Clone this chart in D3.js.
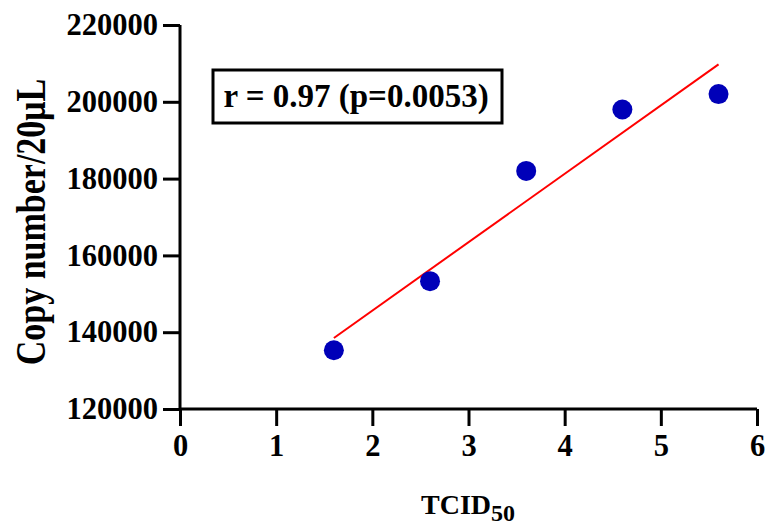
<!DOCTYPE html>
<html lang="en">
<head>
    <meta charset="UTF-8">
    <title>Copy number vs TCID50</title>
    <script src="https://cdn.jsdelivr.net/npm/d3@7"></script>
    <style>
        body { margin: 0; background: #fff; }
        text { font-family: "Liberation Serif", "Times New Roman", serif; font-weight: bold; fill: #000; }
    </style>
</head>
<body>
    <div id="chart"></div>
    <script>
        // data
        const tcid = [1.6, 2.6, 3.6, 4.6, 5.6];
        const copies = [135300, 153300, 182000, 198000, 202000];
        const xTicks = [0, 1, 2, 3, 4, 5, 6];
        const yTicks = [120000, 140000, 160000, 180000, 200000, 220000];
        const statLabel = "r = 0.97 (p=0.0053)";

        const W = 765, H = 525;
        const svg = d3.select("#chart").append("svg")
            .attr("width", W)
            .attr("height", H);

        const x = d3.scaleLinear().domain([0, 6]).range([180, 757]);
        const y = d3.scaleLinear().domain([120000, 220000]).range([409, 25]);

        // axes
        const xAxis = svg.append("g")
            .attr("transform", "translate(0,409)")
            .call(d3.axisBottom(x).tickValues(xTicks).tickSize(17).tickPadding(8).tickFormat(d3.format("d")));
        const yAxis = svg.append("g")
            .attr("transform", "translate(180,0)")
            .call(d3.axisLeft(y).tickValues(yTicks).tickSize(17).tickPadding(5).tickFormat(d3.format("d")));

        [xAxis, yAxis].forEach(g => {
            g.select(".domain").attr("stroke", "#000").attr("stroke-width", 3);
            g.selectAll(".tick line").attr("stroke", "#000").attr("stroke-width", 3);
            g.selectAll(".tick text")
                .attr("font-family", "Liberation Serif, serif")
                .attr("font-weight", "bold")
                .attr("font-size", 30.5)
                .attr("fill", "#000");
        });
        // no outer ticks on the domain paths
        xAxis.select(".domain").attr("d", `M${x(0)},0H${x(6)}`);
        yAxis.select(".domain").attr("d", `M0,${y(120000)}V${y(220000)}`);

        // axis titles (the y title is drawn a bit wider across, like the original)
        svg.append("text")
            .attr("transform", "translate(45,222) rotate(-90) scale(1,1.25)")
            .attr("text-anchor", "middle")
            .attr("font-size", 34)
            .text("Copy number/20μL");

        const xt = svg.append("text")
            .attr("x", 421)
            .attr("y", 514)
            .attr("font-size", 28)
            .text("TCID");
        xt.append("tspan")
            .attr("dy", 7)
            .attr("font-size", 24)
            .text("50");

        // least-squares fit line
        const mx = d3.mean(tcid), my = d3.mean(copies);
        const sxy = d3.sum(tcid, (d, i) => (d - mx) * (copies[i] - my));
        const sxx = d3.sum(tcid, d => (d - mx) * (d - mx));
        const slope = sxy / sxx, icpt = my - slope * mx;
        const ext = d3.extent(tcid);
        svg.append("path")
            .datum(ext)
            .attr("fill", "none")
            .attr("stroke", "#ff0000")
            .attr("stroke-width", 2)
            .attr("d", d3.line().x(d => x(d)).y(d => y(icpt + slope * d)));

        // points
        svg.selectAll(".dot")
            .data(tcid)
            .join("circle")
            .attr("class", "dot")
            .attr("cx", d => x(d))
            .attr("cy", (d, i) => y(copies[i]))
            .attr("r", 10)
            .attr("fill", "#0000b8");

        // stat box
        svg.append("rect")
            .attr("x", 213)
            .attr("y", 70)
            .attr("width", 289)
            .attr("height", 53)
            .attr("fill", "#fff")
            .attr("stroke", "#000")
            .attr("stroke-width", 3);
        svg.append("text")
            .attr("x", 356)
            .attr("y", 107)
            .attr("text-anchor", "middle")
            .attr("font-size", 33)
            .text(statLabel);
    </script>
</body>
</html>
